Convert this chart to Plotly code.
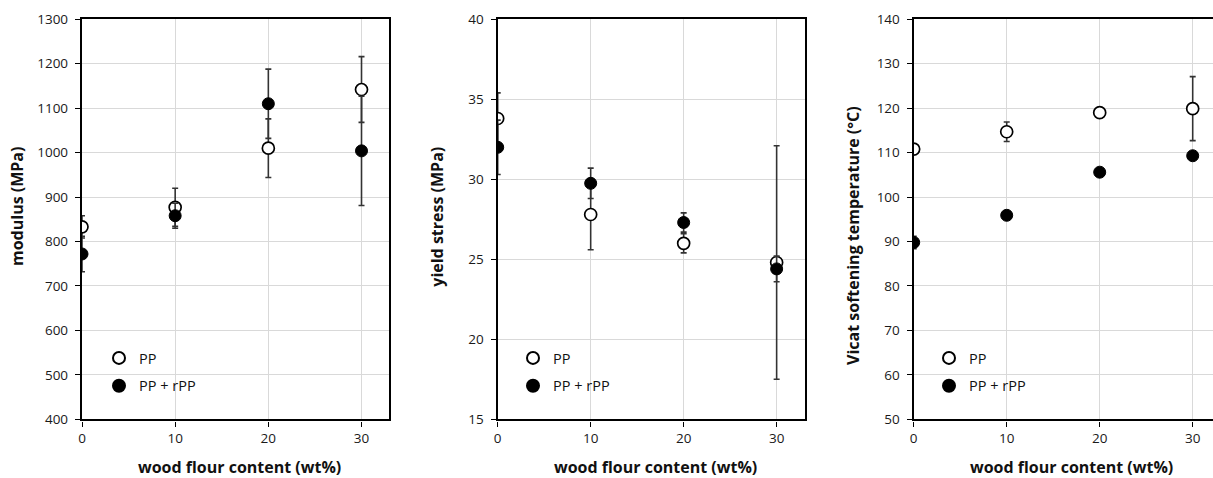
import plotly.graph_objects as go

# ---------------- data ----------------
wood = [0, 10, 20, 30]

mod_pp = [833, 877, 1010, 1142]
mod_pp_err = [25, 43, 66, 74]
mod_rpp = [772, 858, 1110, 1004]
mod_rpp_err = [40, 28, 78, 123]

ys_pp = [33.8, 27.8, 26.0, 24.8]
ys_pp_err = [1.6, 2.2, 0.6, 7.3]
ys_rpp = [32.0, 29.75, 27.3, 24.4]
ys_rpp_err = [1.7, 0.95, 0.6, 0.8]

vi_pp = [110.8, 114.7, 119.0, 119.9]
vi_pp_err = [1.0, 2.2, 1.0, 7.2]
vi_rpp = [89.8, 95.9, 105.6, 109.3]
vi_rpp_err = [1.4, 0.8, 0.8, 0.8]

series_names = ["PP", "PP + rPP"]
x_title = "wood flour content (wt%)"
y_titles = ["modulus (MPa)", "yield stress (MPa)", "Vicat softening temperature (°C)"]

# ---------------- figure ----------------
W, H = 1213, 478
FONT = "Open Sans"
fig = go.Figure()

panels = [
    (mod_pp, mod_pp_err, mod_rpp, mod_rpp_err, "x", "y", "legend"),
    (ys_pp, ys_pp_err, ys_rpp, ys_rpp_err, "x2", "y2", "legend2"),
    (vi_pp, vi_pp_err, vi_rpp, vi_rpp_err, "x3", "y3", "legend3"),
]

err_style = dict(type="data", color="#333333", thickness=1.6, width=3, visible=True)

for i, (pp, ppe, rpp, rppe, xa, ya, lg) in enumerate(panels):
    fig.add_trace(go.Scatter(
        x=wood, y=pp, mode="markers", name=series_names[0],
        error_y=dict(array=ppe, **err_style),
        marker=dict(size=12, color="white", line=dict(color="black", width=1.7)),
        xaxis=xa, yaxis=ya, legend=lg, legendgroup=f"a{i}",
    ))
    fig.add_trace(go.Scatter(
        x=wood, y=rpp, mode="markers", name=series_names[1],
        error_y=dict(array=rppe, **err_style),
        marker=dict(size=12, color="black", line=dict(color="black", width=1)),
        xaxis=xa, yaxis=ya, legend=lg, legendgroup=f"b{i}",
    ))

def px2x(p):
    return p / W

def py2y(p):
    return 1 - p / H

y_dom = [py2y(419.3), py2y(19.3)]
x_doms = [
    [px2x(82), px2x(389)],
    [px2x(497.7), px2x(805)],
    [px2x(913.7), 1.0],
]
x_ranges = [[0, 32.95], [0, 33.05], [0, (1213 - 913.7) / 9.3]]
y_ranges = [[400, 1300], [15, 40], [50, 140]]
y_dtick = [100, 5, 10]

axis_common = dict(
    showline=True, linecolor="black", linewidth=2.4,
    ticks="outside", ticklen=5, tickwidth=1.4, tickcolor="black",
    showgrid=True, gridcolor="#d9d9d9", gridwidth=1,
    zeroline=False, automargin=False,
    tickfont=dict(family=FONT, size=13.5, color="#1a1a1a"),
)

layout = dict(
    width=W, height=H, autosize=False,
    margin=dict(l=0, r=0, t=0, b=0, pad=0, autoexpand=False),
    paper_bgcolor="white", plot_bgcolor="white",
    showlegend=True,
)

names = ["", "2", "3"]
for i in range(3):
    n = names[i]
    layout[f"xaxis{n}"] = dict(
        domain=x_doms[i], range=x_ranges[i], tickmode="array",
        tickvals=wood, anchor=f"y{n}", mirror=True, **axis_common,
    )
    layout[f"yaxis{n}"] = dict(
        domain=y_dom, range=y_ranges[i], dtick=y_dtick[i], tick0=y_ranges[i][0],
        anchor=f"x{n}", mirror=(i < 2), ticklabelstandoff=4, **axis_common,
    )

leg_x = [99, 513, 929]
for i in range(3):
    key = "legend" if i == 0 else f"legend{i+1}"
    layout[key] = dict(
        x=px2x(leg_x[i]), y=py2y(342), xanchor="left", yanchor="top",
        xref="paper", yref="paper",
        bgcolor="rgba(0,0,0,0)", borderwidth=0,
        font=dict(family=FONT, size=14.5, color="#111"),
        traceorder="grouped", tracegroupgap=6,
        itemsizing="constant",
    )

fig.update_layout(**layout)

# axis titles as annotations
x_title_cx = [239.5, 655.7, 1071]
for cx in x_title_cx:
    fig.add_annotation(
        x=px2x(cx), y=py2y(467), xref="paper", yref="paper",
        text=x_title, showarrow=False, xanchor="center", yanchor="middle",
        font=dict(family=FONT, size=16, color="#111", weight="bold"),
    )

y_title_pos = [(17, 207), (436.7, 217), (853, 236)]
for (cx, cy), t in zip(y_title_pos, y_titles):
    fig.add_annotation(
        x=px2x(cx), y=py2y(cy), xref="paper", yref="paper",
        text=t, showarrow=False, textangle=-90, xanchor="center", yanchor="middle",
        font=dict(family=FONT, size=16, color="#111", weight="bold"),
    )

fig.write_html(
    "out.html",
    config={"displayModeBar": False},
    post_script="document.body.style.margin='0';document.body.style.overflow='hidden';",
)
